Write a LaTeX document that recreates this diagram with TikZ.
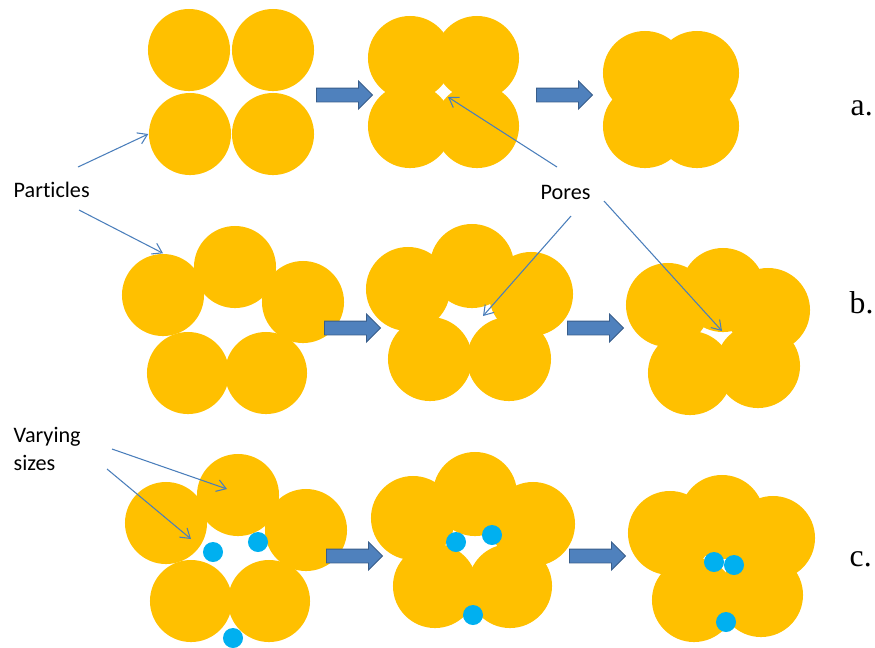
\documentclass[tikz,border=0pt]{standalone}
\usepackage{fontspec}
\setmainfont{Carlito}[Ligatures=NoCommon]
\newfontfamily\rowfont{Liberation Serif}
\usetikzlibrary{shapes.arrows,arrows.meta,positioning}

\definecolor{grain}{HTML}{FFC000}
\definecolor{fines}{HTML}{00B0F0}
\definecolor{stepfill}{HTML}{4F81BD}
\definecolor{stepline}{HTML}{385D8A}
\definecolor{pointer}{HTML}{4A7EBB}

\tikzset{
  big/.style={circle, fill=grain, inner sep=0, minimum size=0.84cm},
  bigs/.style={circle, fill=grain, inner sep=0, minimum size=0.82cm},
  small/.style={circle, fill=fines, inner sep=0, minimum size=0.2cm},
  stage/.style={single arrow, fill=stepfill, draw=stepline, line width=0.25pt,
    inner xsep=0, inner ysep=0.065cm, single arrow head extend=0.07cm,
    minimum height=0.56cm},
  label/.style={font=\fontsize{6.3}{7.7}\selectfont, inner sep=0, anchor=base west},
  tag/.style={font=\rowfont\fontsize{9}{10}\selectfont, inner sep=0, anchor=base west},
  pointer/.style={draw=pointer, line width=0.3pt, ->},
  >={Straight Barb[length=2.6pt,width=3.4pt]}
}

\begin{document}
\begin{tikzpicture}[x=0.01cm, y=-0.01cm]
  \useasboundingbox (0,0) rectangle (875,647);

  % row a: square packing
  \node[bigs] (a1nw) at (189,50) {};
  \node[bigs] (a1ne) at (273,50) {};
  \node[bigs] (a1sw) at (190,134) {};
  \node[bigs] (a1se) at (273,134) {};
  \node[big] (a2nw) at (410,58) {};
  \node[big] (a2ne) at (477,58) {};
  \node[big] (a2sw) at (410,126) {};
  \node[big] (a2se) at (477,126) {};
  \node[big] (a3nw) at (645,73) {};
  \node[big] (a3ne) at (697,73) {};
  \node[big] (a3sw) at (645,126) {};
  \node[big] (a3se) at (697,126) {};
  \node[stage] (a12) at (341,95) {};
  \node[stage] (a23) at (561,95) {};
  \node[tag] (ta) at (850,115) {a.};

  % row b: ring of five
  \node[bigs] (b1w) at (163,295) {};
  \node[bigs] (b1n) at (235,267) {};
  \node[bigs] (b1e) at (303,302) {};
  \node[bigs] (b1sw) at (188,373) {};
  \node[bigs] (b1se) at (266,373) {};
  \node[big] (b2w) at (408,289) {};
  \node[big] (b2n) at (472,266) {};
  \node[big] (b2e) at (531,294) {};
  \node[big] (b2sw) at (430,359) {};
  \node[big] (b2se) at (509,359) {};
  \node[big] (b3w) at (668,305) {};
  \node[big] (b3n) at (723,290) {};
  \node[big] (b3e) at (768,310) {};
  \node[big] (b3sw) at (690,373) {};
  \node[big] (b3se) at (758,366) {};
  \node[stage] (b12) at (349,328) {};
  \node[stage] (b23) at (592,328) {};
  \node[tag] (tb) at (849,313) {b.};

  % row c: ring of five with fines
  \node[bigs] (c1w) at (166,523) {};
  \node[bigs] (c1n) at (238,495) {};
  \node[bigs] (c1e) at (306,530) {};
  \node[bigs] (c1sw) at (191,601) {};
  \node[bigs] (c1se) at (269,601) {};
  \node[big] (c2w) at (413,518) {};
  \node[big] (c2n) at (475,494) {};
  \node[big] (c2e) at (533,524) {};
  \node[big] (c2sw) at (435,586) {};
  \node[big] (c2se) at (510,586) {};
  \node[big] (c3w) at (670,533) {};
  \node[big] (c3n) at (722,517) {};
  \node[big] (c3e) at (773,538) {};
  \node[big] (c3sw) at (694,600) {};
  \node[big] (c3se) at (761,595) {};
  \node[small] (f1a) at (213,552) {};
  \node[small] (f1b) at (258,542) {};
  \node[small] (f1c) at (233,638) {};
  \node[small] (f2a) at (456,542) {};
  \node[small] (f2b) at (492,535) {};
  \node[small] (f2c) at (473,615) {};
  \node[small] (f3a) at (714,562) {};
  \node[small] (f3b) at (734,565) {};
  \node[small] (f3c) at (726,622) {};
  \node[stage] (c12) at (351,556) {};
  \node[stage] (c23) at (594,556) {};
  \node[tag] (tc) at (849,566) {c.};

  % labels and pointers
  \node[label] (particles) at (13,197) {Particles};
  \node[label] (pores) at (540,199) {Pores};
  \node[label, align=left] (varying) at (13,470) {Varying\\sizes};

  \coordinate (p1) at (78,167);
  \coordinate (p2) at (79,210);
  \coordinate (r1) at (557,167);
  \coordinate (r2) at (571,216);
  \coordinate (r3) at (604,201);
  \coordinate (gapa) at (448,97);
  \coordinate (gapb) at (483,316);
  \coordinate (gapc) at (722,331);
  \coordinate (v1) at (112,449);
  \coordinate (v2) at (107,469);
  \coordinate (inn) at (227,489);
  \coordinate (inw) at (191,539);

  \draw[pointer] (p1) -- (a1sw.west);
  \draw[pointer] (p2) -- (b1w.north);
  \draw[pointer] (r1) -- (gapa);
  \draw[pointer] (r2) -- (gapb);
  \draw[pointer] (r3) -- (gapc);
  \draw[pointer] (v1) -- (inn);
  \draw[pointer] (v2) -- (inw);
\end{tikzpicture}
\end{document}
